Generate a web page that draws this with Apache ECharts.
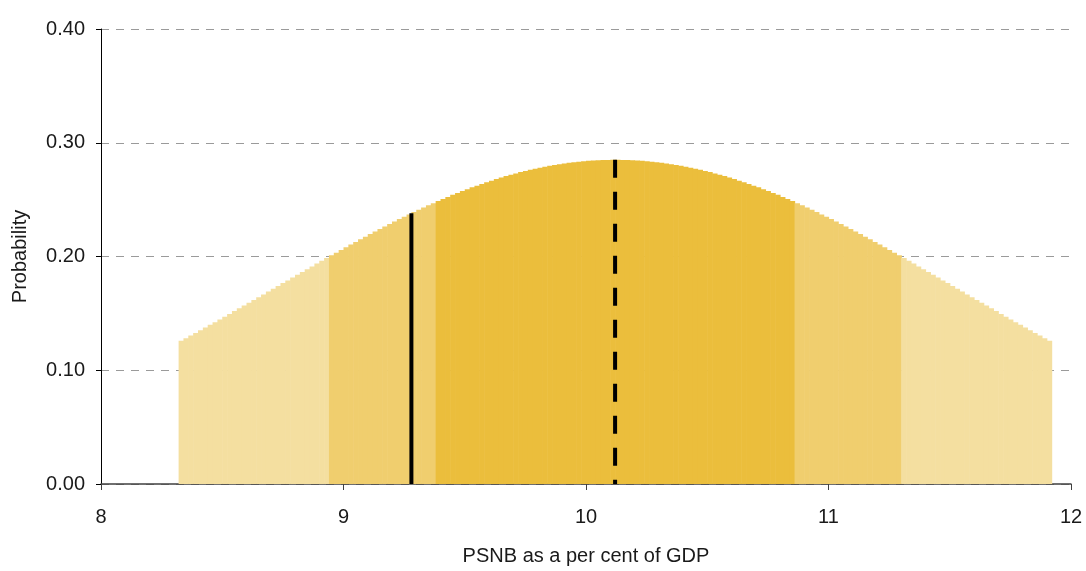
<!DOCTYPE html>
<html>
<head>
<meta charset="utf-8">
<script src="https://cdn.jsdelivr.net/npm/echarts@6/dist/echarts.min.js"></script>
<style>
html,body{margin:0;padding:0;background:#fff;}
#chart{width:1086px;height:571px;}
</style>
</head>
<body>
<div id="chart"></div>
<script>
// PSNB (% of GDP) bin left edges
const binStart = [
8.32,8.34,8.36,8.38,8.40,8.42,8.44,8.46,8.48,8.50,8.52,8.54,8.56,8.58,8.60,8.62,8.64,8.66,8.68,8.70,
8.72,8.74,8.76,8.78,8.80,8.82,8.84,8.86,8.88,8.90,8.92,8.94,8.96,8.98,
9.00,9.02,9.04,9.06,9.08,9.10,9.12,9.14,9.16,9.18,9.20,9.22,9.24,9.26,9.28,9.30,9.32,9.34,9.36,9.38,
9.40,9.42,9.44,9.46,9.48,9.50,9.52,9.54,9.56,9.58,9.60,9.62,9.64,9.66,9.68,9.70,9.72,9.74,9.76,9.78,
9.80,9.82,9.84,9.86,9.88,9.90,9.92,9.94,9.96,9.98,
10.00,10.02,10.04,10.06,10.08,10.10,10.12,10.14,10.16,10.18,10.20,10.22,10.24,10.26,10.28,10.30,10.32,10.34,10.36,10.38,
10.40,10.42,10.44,10.46,10.48,10.50,10.52,10.54,10.56,10.58,10.60,10.62,10.64,10.66,10.68,10.70,10.72,10.74,10.76,10.78,
10.80,10.82,10.84,10.86,10.88,10.90,10.92,10.94,10.96,10.98,
11.00,11.02,11.04,11.06,11.08,11.10,11.12,11.14,11.16,11.18,11.20,11.22,11.24,11.26,11.28,11.30,11.32,11.34,11.36,11.38,
11.40,11.42,11.44,11.46,11.48,11.50,11.52,11.54,11.56,11.58,11.60,11.62,11.64,11.66,11.68,11.70,11.72,11.74,11.76,11.78,
11.80,11.82,11.84,11.86,11.88,11.90
];
const binWidth = 0.02;

// Probability for each bin
const probability = [
0.1259,0.1282,0.1305,0.1328,0.1352,0.1375,0.1399,0.1423,0.1447,0.1471,
0.1495,0.1520,0.1544,0.1569,0.1593,0.1618,0.1642,0.1667,0.1692,0.1716,
0.1741,0.1766,0.1790,0.1815,0.1840,0.1864,0.1889,0.1913,0.1938,0.1962,
0.1986,0.2010,0.2034,0.2058,0.2081,0.2105,0.2128,0.2151,0.2174,0.2197,
0.2220,0.2242,0.2264,0.2286,0.2307,0.2329,0.2350,0.2370,0.2391,0.2411,
0.2431,0.2450,0.2469,0.2488,0.2506,0.2524,0.2542,0.2559,0.2576,0.2592,
0.2608,0.2623,0.2638,0.2653,0.2667,0.2681,0.2694,0.2707,0.2719,0.2730,
0.2742,0.2752,0.2762,0.2772,0.2781,0.2790,0.2798,0.2805,0.2812,0.2818,
0.2824,0.2829,0.2834,0.2838,0.2841,0.2844,0.2846,0.2848,0.2849,0.2850,
0.2850,0.2849,0.2848,0.2846,0.2844,0.2841,0.2838,0.2834,0.2829,0.2824,
0.2818,0.2812,0.2805,0.2798,0.2790,0.2781,0.2772,0.2762,0.2752,0.2742,
0.2730,0.2719,0.2707,0.2694,0.2681,0.2667,0.2653,0.2638,0.2623,0.2608,
0.2592,0.2576,0.2559,0.2542,0.2524,0.2506,0.2488,0.2469,0.2450,0.2431,
0.2411,0.2391,0.2370,0.2350,0.2329,0.2307,0.2286,0.2264,0.2242,0.2220,
0.2197,0.2174,0.2151,0.2128,0.2105,0.2081,0.2058,0.2034,0.2010,0.1986,
0.1962,0.1938,0.1913,0.1889,0.1864,0.1840,0.1815,0.1790,0.1766,0.1741,
0.1716,0.1692,0.1667,0.1642,0.1618,0.1593,0.1569,0.1544,0.1520,0.1495,
0.1471,0.1447,0.1423,0.1399,0.1375,0.1352,0.1328,0.1305,0.1282,0.1259
];

// Fan band boundaries (PSNB) and colours
const bandEdges = [8.94, 9.38, 10.86, 11.30];
const bandColors = ['#F4DFA0', '#F0CE6E', '#EBBE3C', '#F0CE6E', '#F4DFA0'];

// Reference lines: [x, height]
const outturnLine = [9.28, 0.238];
const centralLine = [10.12, 0.285];

const xTicks = [8, 9, 10, 11, 12];
const yTicks = [0, 0.1, 0.2, 0.3, 0.4];

const FONT = '"Liberation Sans", Arial, sans-serif';

function bandColor(x) {
  const c = x + binWidth / 2;
  let i = 0;
  while (i < bandEdges.length && c > bandEdges[i]) i++;
  return bandColors[i];
}

const chart = echarts.init(document.getElementById('chart'));
chart.setOption({
  animation: false,
  backgroundColor: '#ffffff',
  grid: { left: 101, right: 15, top: 29, bottom: 82, containLabel: false },
  xAxis: {
    type: 'value',
    min: xTicks[0], max: xTicks[xTicks.length - 1], interval: 1,
    name: 'PSNB as a per cent of GDP',
    nameLocation: 'middle', nameGap: 62,
    nameTextStyle: { fontFamily: FONT, fontSize: 20, color: '#1a1a1a' },
    axisLine: { show: true, onZero: false, lineStyle: { color: '#404040', width: 1.5 } },
    axisTick: { show: true, length: 6, lineStyle: { color: '#404040' } },
    axisLabel: { margin: 23, fontFamily: FONT, fontSize: 20, color: '#1a1a1a' },
    splitLine: { show: false }
  },
  yAxis: {
    type: 'value',
    min: yTicks[0], max: yTicks[yTicks.length - 1], interval: 0.1,
    name: 'Probability',
    nameLocation: 'middle', nameGap: 71,
    nameTextStyle: { fontFamily: FONT, fontSize: 20, color: '#1a1a1a' },
    axisLine: { show: true, lineStyle: { color: '#000', width: 1 } },
    axisTick: { show: true, length: 5, lineStyle: { color: '#000' } },
    axisLabel: { margin: 16, fontFamily: FONT, fontSize: 20, color: '#1a1a1a',
      formatter: v => v.toFixed(2) },
    splitLine: { show: true, lineStyle: { color: '#9a9a9a', type: [8, 7], width: 1 } }
  },
  series: [
    {
      type: 'custom',
      data: binStart.map((x, i) => [x, probability[i]]),
      encode: { x: 0, y: 1 },
      z: 2,
      renderItem: function (params, api) {
        const x = api.value(0), y = api.value(1);
        const a = api.coord([x, y]);
        const b = api.coord([x + binWidth, 0]);
        return {
          type: 'rect',
          shape: { x: a[0], y: a[1], width: b[0] - a[0] + 0.6, height: b[1] - a[1] },
          style: { fill: bandColor(x) }
        };
      }
    },
    {
      type: 'line',
      z: 5,
      symbol: 'none',
      data: [[outturnLine[0], 0], [outturnLine[0], outturnLine[1]]],
      lineStyle: { color: '#000', width: 4, type: 'solid' }
    },
    {
      type: 'line',
      z: 5,
      symbol: 'none',
      data: [[centralLine[0], centralLine[1]], [centralLine[0], 0]],
      lineStyle: { color: '#000', width: 4, type: [18, 14] }
    }
  ]
});
</script>
</body>
</html>
